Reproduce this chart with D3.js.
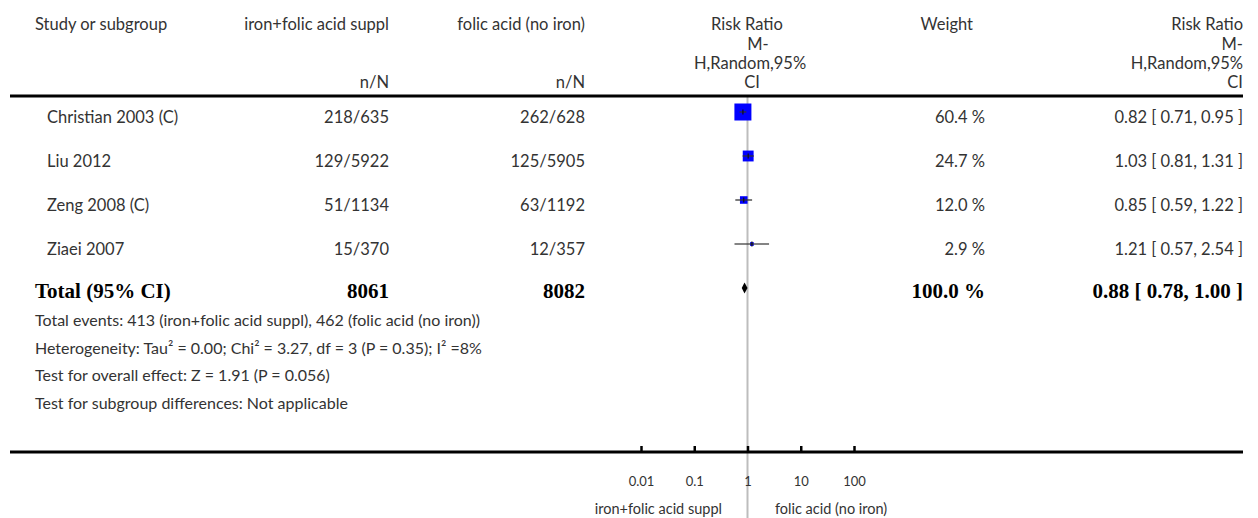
<!DOCTYPE html>
<html><head><meta charset="utf-8">
<script src="https://cdn.jsdelivr.net/npm/d3@7"></script>
<style>
html,body{margin:0;padding:0;background:#fff;}
svg{display:block;}
text{font-family:Lato,"Open Sans",sans-serif;fill:#333;}
.b{font-family:"Liberation Serif","DejaVu Serif",serif;font-weight:bold;fill:#000;}
</style></head><body>
<script>
const studies = ["Christian 2003 (C)", "Liu 2012", "Zeng 2008 (C)", "Ziaei 2007"];
const expEvents = [218, 129, 51, 15];
const expTotal = [635, 5922, 1134, 370];
const ctrlEvents = [262, 125, 63, 12];
const ctrlTotal = [628, 5905, 1192, 357];
const weights = [60.4, 24.7, 12.0, 2.9];
const rr = [0.82, 1.03, 0.85, 1.21];
const rrLow = [0.71, 0.81, 0.59, 0.57];
const rrHigh = [0.95, 1.31, 1.22, 2.54];
const totalLabel = "Total (95% CI)";
const totalExpN = 8061, totalCtrlN = 8082, totalWeight = 100.0;
const totalRR = 0.88, totalLow = 0.78, totalHigh = 1.00;
const expName = "iron+folic acid suppl";
const ctrlName = "folic acid (no iron)";
const tickValues = [0.01, 0.1, 1, 10, 100];
const tickLabels = ["0.01", "0.1", "1", "10", "100"];
const footnotes = [
  "Total events: 413 (iron+folic acid suppl), 462 (folic acid (no iron))",
  "Heterogeneity: Tau² = 0.00; Chi² = 3.27, df = 3 (P = 0.35); I² =8%",
  "Test for overall effect: Z = 1.91 (P = 0.056)",
  "Test for subgroup differences: Not applicable"
];

const W = 1258, H = 518;
const svg = d3.select("body").append("svg").attr("width", W).attr("height", H);
const x = d3.scaleLog().domain([0.01, 100]).range([641, 854]);
const y = d3.scalePoint().domain(d3.range(studies.length + 1)).range([112, 288]);
const box = d3.scaleSqrt().domain([0, 60.4]).range([0, 17]);
const fs = 16.5;
const fmt2 = d3.format(".2f");

// reference line
svg.append("line").attr("x1", x(1)).attr("x2", x(1)).attr("y1", 96).attr("y2", 518)
  .attr("stroke", "#bdbdbd").attr("stroke-width", 2);

// headers
const hdr = svg.append("g").attr("font-size", fs);
hdr.append("text").attr("x", 35).attr("y", 30).text("Study or subgroup");
hdr.append("text").attr("x", 389).attr("y", 30).attr("text-anchor", "end").text(expName);
hdr.append("text").attr("x", 585).attr("y", 30).attr("text-anchor", "end").text(ctrlName);
hdr.append("text").attr("x", 389).attr("y", 88).attr("text-anchor", "end").text("n/N");
hdr.append("text").attr("x", 585).attr("y", 88).attr("text-anchor", "end").text("n/N");
const rrLines = [["Risk Ratio", 747, 30], ["M-", 758, 50], ["H,Random,95%", 750, 69], ["CI", 752, 88]];
rrLines.forEach(d => hdr.append("text").attr("x", d[1]).attr("y", d[2]).attr("text-anchor", "middle").text(d[0]));
hdr.append("text").attr("x", 973).attr("y", 30).attr("text-anchor", "end").text("Weight");
rrLines.forEach(d => hdr.append("text").attr("x", 1243).attr("y", d[2]).attr("text-anchor", "end").text(d[0]));

// rules
svg.append("line").attr("x1", 10).attr("x2", 1243).attr("y1", 96).attr("y2", 96).attr("stroke", "#000").attr("stroke-width", 3);
svg.append("line").attr("x1", 10).attr("x2", 1243).attr("y1", 452).attr("y2", 452).attr("stroke", "#000").attr("stroke-width", 3);

// study rows
const rows = svg.append("g").attr("font-size", fs);
studies.forEach((s, i) => {
  const ty = y(i) + 11;
  rows.append("text").attr("x", 47).attr("y", ty).text(s);
  rows.append("text").attr("x", 389).attr("y", ty).attr("text-anchor", "end").text(expEvents[i] + "/" + expTotal[i]);
  rows.append("text").attr("x", 585).attr("y", ty).attr("text-anchor", "end").text(ctrlEvents[i] + "/" + ctrlTotal[i]);
  rows.append("text").attr("x", 985).attr("y", ty).attr("text-anchor", "end").text(d3.format(".1f")(weights[i]) + " %");
  rows.append("text").attr("x", 1243).attr("y", ty).attr("text-anchor", "end")
    .text(fmt2(rr[i]) + " [ " + fmt2(rrLow[i]) + ", " + fmt2(rrHigh[i]) + " ]");
  const b = box(weights[i]);
  svg.append("rect").attr("x", x(rr[i]) - b / 2).attr("y", y(i) - b / 2).attr("width", b).attr("height", b).attr("fill", "#0000ff");
  svg.append("line").attr("x1", x(rrLow[i])).attr("x2", x(rrHigh[i])).attr("y1", y(i)).attr("y2", y(i))
    .attr("stroke", "#333").attr("stroke-opacity", 0.8).attr("stroke-width", 1.6);
  svg.append("line").attr("x1", x(rr[i])).attr("x2", x(rr[i])).attr("y1", y(i) - 2.5).attr("y2", y(i) + 2.5)
    .attr("stroke", "#111").attr("stroke-width", 1.2);
});

// total row
const ti = studies.length;
const tY = y(ti);
const tb = svg.append("g").attr("font-size", 21);
tb.append("text").attr("class", "b").attr("x", 35).attr("y", tY + 10).text(totalLabel);
tb.append("text").attr("class", "b").attr("x", 389).attr("y", tY + 10).attr("text-anchor", "end").text(totalExpN);
tb.append("text").attr("class", "b").attr("x", 585).attr("y", tY + 10).attr("text-anchor", "end").text(totalCtrlN);
tb.append("text").attr("class", "b").attr("x", 985).attr("y", tY + 10).attr("text-anchor", "end").text(d3.format(".1f")(totalWeight) + " %");
tb.append("text").attr("class", "b").attr("x", 1243).attr("y", tY + 10).attr("text-anchor", "end")
  .text(fmt2(totalRR) + " [ " + fmt2(totalLow) + ", " + fmt2(totalHigh) + " ]");
svg.append("path").attr("fill", "#000")
  .attr("d", d3.line()([[x(totalLow), tY], [x(totalRR), tY - 5.5], [x(totalHigh), tY], [x(totalRR), tY + 5.5]]) + "Z");

// footnotes
const fn = svg.append("g").attr("font-size", 16);
footnotes.forEach((t, i) => fn.append("text").attr("x", 35).attr("y", 326 + i * 27.5).text(t));

// axis
const axis = d3.axisBottom(x).tickValues(tickValues).tickFormat((d, i) => tickLabels[i])
  .tickSize(-6).tickPadding(25);
const ag = svg.append("g").attr("transform", "translate(0,452)").call(axis);
ag.select(".domain").remove();
ag.selectAll(".tick line").attr("stroke", "#000").attr("stroke-width", 2.5);
ag.selectAll(".tick text").attr("font-family", "Lato,sans-serif").attr("font-size", 13).attr("fill", "#333");
svg.append("text").attr("x", 722).attr("y", 514).attr("text-anchor", "end").attr("font-size", 14.5).text(expName);
svg.append("text").attr("x", 775).attr("y", 514).attr("font-size", 14.5).text(ctrlName);
</script>
</body></html>
